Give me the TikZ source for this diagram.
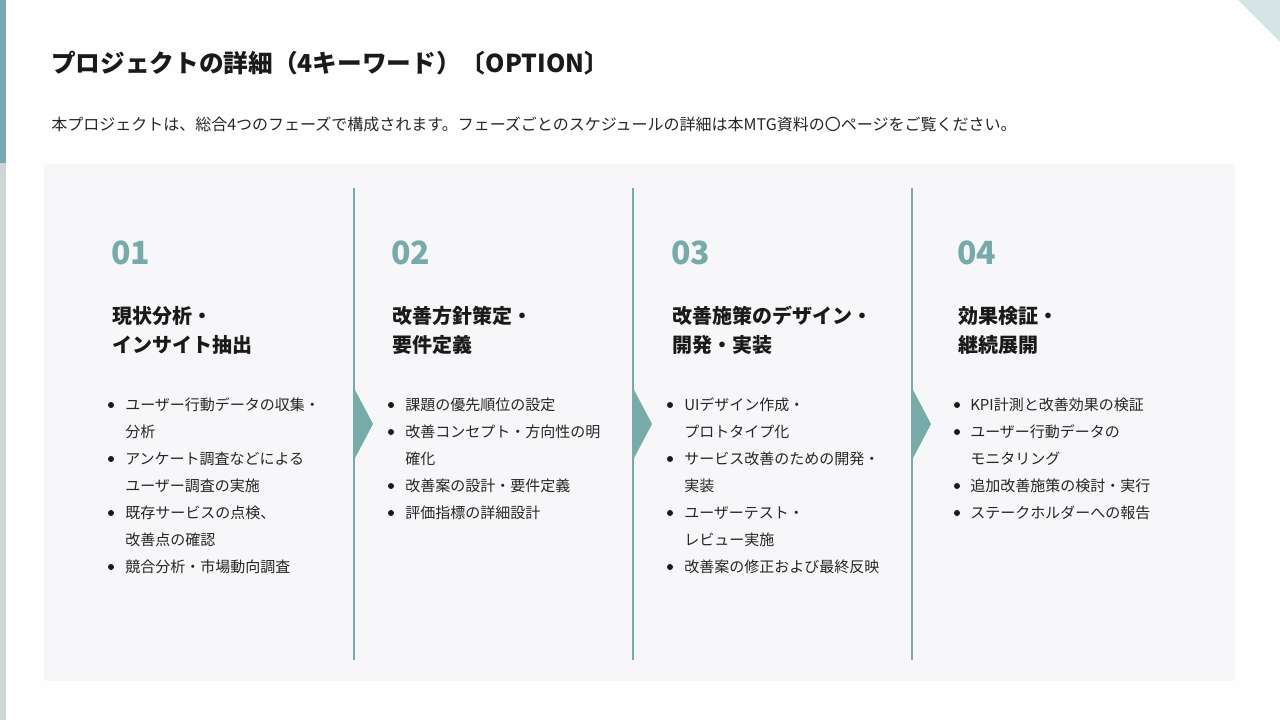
\documentclass[tikz,border=0pt]{standalone}
\usepackage{fontspec}
\setmainfont{Noto Sans CJK JP}
\definecolor{bg}{HTML}{FEFEFE}
\definecolor{panel}{HTML}{F7F7F9}
\definecolor{barteal}{HTML}{7BA8B1}
\definecolor{bargray}{HTML}{D0D5D7}
\definecolor{corner}{HTML}{D6E4E7}
\definecolor{teal}{HTML}{76ABA9}
\definecolor{ink}{HTML}{1A1A1A}
\definecolor{body}{HTML}{262626}
\begin{document}
\begin{tikzpicture}[x=0.75pt,y=-0.75pt,
  lbl/.style={inner sep=0,anchor=west},
  titletext/.style={lbl,text=ink,font=\fontsize{18.5pt}{22pt}\selectfont\bfseries},
  subtext/.style={lbl,text=body,font=\fontsize{12pt}{14pt}\selectfont},
  numtext/.style={lbl,text=teal,font=\fontsize{24pt}{28pt}\selectfont\bfseries},
  headtext/.style={lbl,text=ink,font=\fontsize{15pt}{18pt}\selectfont\bfseries},
  itemtext/.style={lbl,text=body,font=\fontsize{11.25pt}{14pt}\selectfont},
  dot/.style={fill=ink,draw=none},
  divider/.style={draw=teal,line width=0.8pt},
  chevron/.style={fill=teal,draw=none}]
\fill[bg] (0,0) rectangle (1280,720);
\useasboundingbox (0,0) rectangle (1280,720);
% decorations
\fill[barteal] (0,0) rectangle (6,163);
\fill[bargray] (0,163) rectangle (6,720);
\fill[corner] (1238,0) -- (1280,0) -- (1280,42) -- cycle;
% panel
\fill[panel] (44,164) rectangle (1235,681);
% title
\node[titletext] (title) at (51,63) {プロジェクトの詳細（4キーワード）〔OPTION〕};
\node[subtext] (sub) at (51,124) {本プロジェクトは、総合4つのフェーズで構成されます。フェーズごとのスケジュールの詳細は本MTG資料の〇ページをご覧ください。};
% dividers and chevrons
\foreach \x [count=\i] in {354,633,912}{
  \draw[divider] (\x,188) -- (\x,660);
  \fill[chevron] (\x,388) -- (\x+19,424) -- (\x,460) -- cycle;
}
% column 1
\node[numtext] (n1) at (111,253) {01};
\node[headtext] (h1a) at (112,316) {現状分析・};
\node[headtext] (h1b) at (112,345) {インサイト抽出};
\fill[dot] (111,405) circle (3);
\node[itemtext] (c1a) at (125,405) {ユーザー行動データの収集・};
\node[itemtext] (c1b) at (125,432) {分析};
\fill[dot] (111,459) circle (3);
\node[itemtext] (c1c) at (125,459) {アンケート調査などによる};
\node[itemtext] (c1d) at (125,486) {ユーザー調査の実施};
\fill[dot] (111,513) circle (3);
\node[itemtext] (c1e) at (125,513) {既存サービスの点検、};
\node[itemtext] (c1f) at (125,540) {改善点の確認};
\fill[dot] (111,567) circle (3);
\node[itemtext] (c1g) at (125,567) {競合分析・市場動向調査};
% column 2
\node[numtext] (n2) at (391,253) {02};
\node[headtext] (h2a) at (392,316) {改善方針策定・};
\node[headtext] (h2b) at (392,345) {要件定義};
\fill[dot] (391,405) circle (3);
\node[itemtext] (c2a) at (405,405) {課題の優先順位の設定};
\fill[dot] (391,432) circle (3);
\node[itemtext] (c2b) at (405,432) {改善コンセプト・方向性の明};
\node[itemtext] (c2c) at (405,459) {確化};
\fill[dot] (391,486) circle (3);
\node[itemtext] (c2d) at (405,486) {改善案の設計・要件定義};
\fill[dot] (391,513) circle (3);
\node[itemtext] (c2e) at (405,513) {評価指標の詳細設計};
% column 3
\node[numtext] (n3) at (671,253) {03};
\node[headtext] (h3a) at (672,316) {改善施策のデザイン・};
\node[headtext] (h3b) at (672,345) {開発・実装};
\fill[dot] (670,405) circle (3);
\node[itemtext] (c3a) at (684,405) {UIデザイン作成・};
\node[itemtext] (c3b) at (684,432) {プロトタイプ化};
\fill[dot] (670,459) circle (3);
\node[itemtext] (c3c) at (684,459) {サービス改善のための開発・};
\node[itemtext] (c3d) at (684,486) {実装};
\fill[dot] (670,513) circle (3);
\node[itemtext] (c3e) at (684,513) {ユーザーテスト・};
\node[itemtext] (c3f) at (684,540) {レビュー実施};
\fill[dot] (670,567) circle (3);
\node[itemtext] (c3g) at (684,567) {改善案の修正および最終反映};
% column 4
\node[numtext] (n4) at (957,253) {04};
\node[headtext] (h4a) at (958,316) {効果検証・};
\node[headtext] (h4b) at (958,345) {継続展開};
\fill[dot] (957,405) circle (3);
\node[itemtext] (c4a) at (970,405) {KPI計測と改善効果の検証};
\fill[dot] (957,432) circle (3);
\node[itemtext] (c4b) at (970,432) {ユーザー行動データの};
\node[itemtext] (c4c) at (970,459) {モニタリング};
\fill[dot] (957,486) circle (3);
\node[itemtext] (c4d) at (970,486) {追加改善施策の検討・実行};
\fill[dot] (957,513) circle (3);
\node[itemtext] (c4e) at (970,513) {ステークホルダーへの報告};
\end{tikzpicture}
\end{document}
